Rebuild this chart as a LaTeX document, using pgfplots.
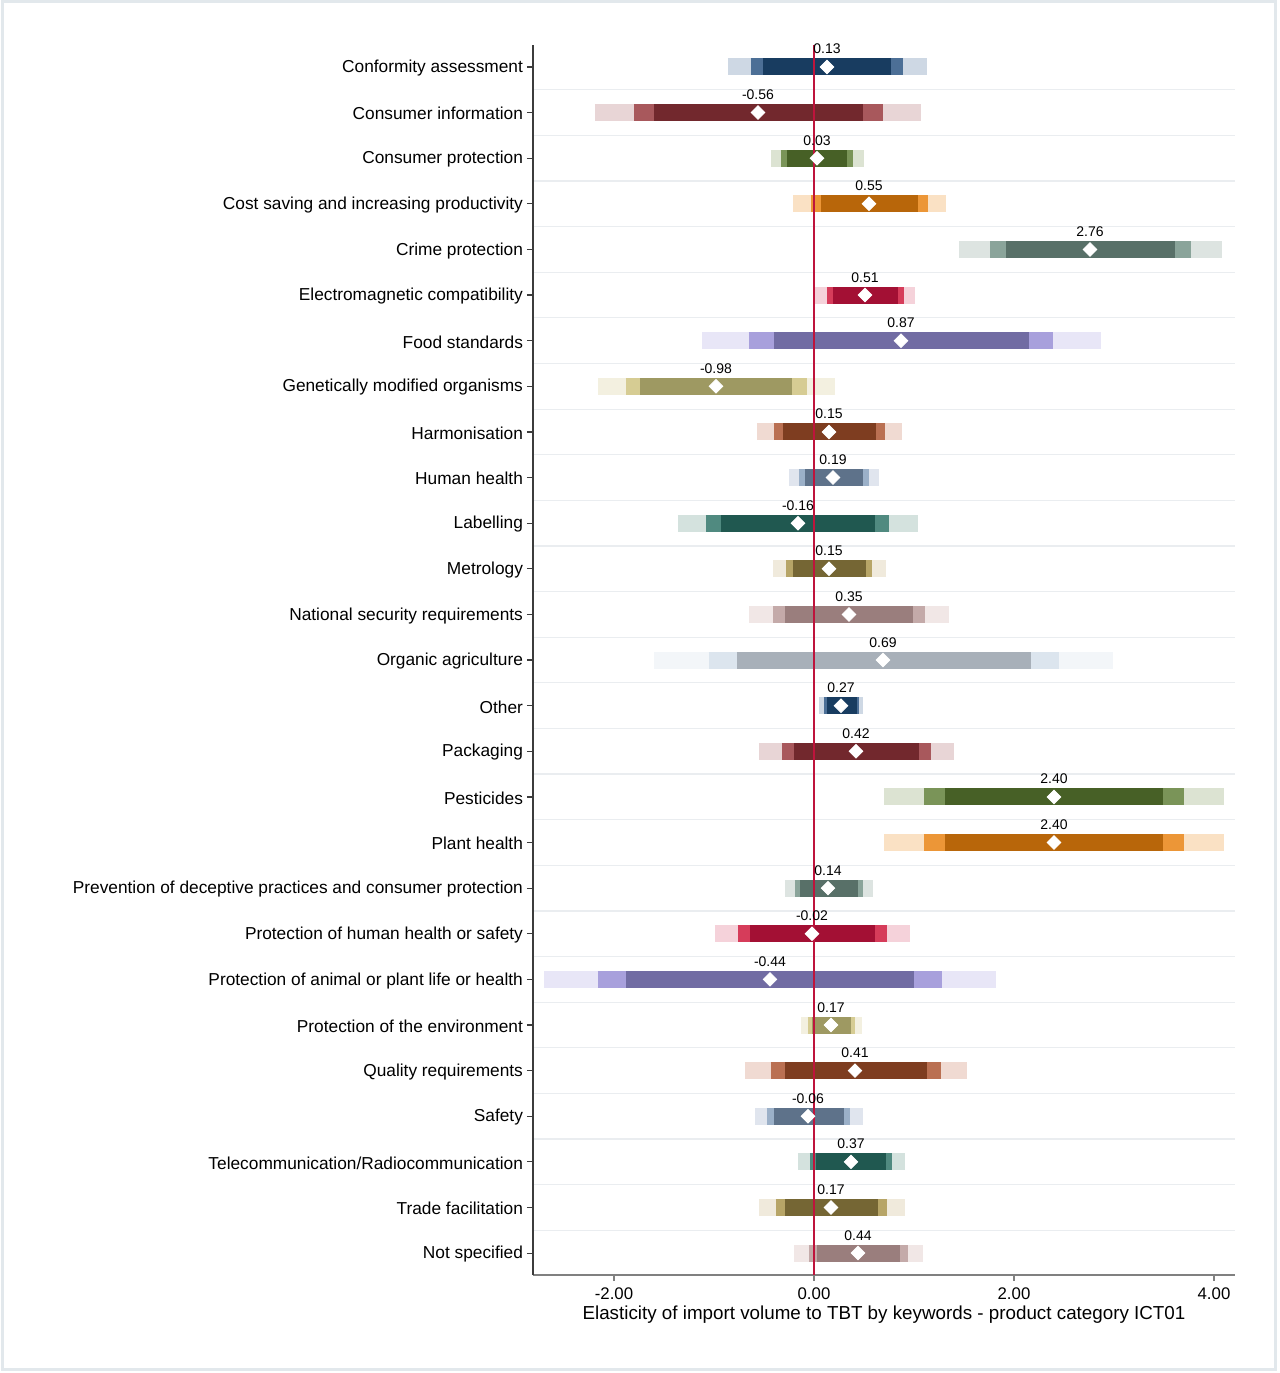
\documentclass[border=0pt]{standalone}
\usepackage{fontspec}
\setmainfont{Liberation Sans}
\usepackage{pgfplots}
\usepackage{pgfplotstable}
\pgfplotsset{compat=1.18}

\definecolor{zeroline}{RGB}{190,20,60}
\definecolor{gridc}{RGB}{234,237,240}
\definecolor{framec}{RGB}{226,232,236}
\definecolor{xaxisc}{RGB}{128,128,128}
\definecolor{yaxisc}{RGB}{60,60,60}

% one colour per keyword (c column), three shades: l light, m medium, d dark
\definecolor{k0l}{RGB}{206,216,228}\definecolor{k0m}{RGB}{76,111,150}\definecolor{k0d}{RGB}{24,60,96}
\definecolor{k1l}{RGB}{232,213,214}\definecolor{k1m}{RGB}{168,88,92}\definecolor{k1d}{RGB}{114,40,45}
\definecolor{k2l}{RGB}{220,227,210}\definecolor{k2m}{RGB}{122,148,88}\definecolor{k2d}{RGB}{71,96,38}
\definecolor{k3l}{RGB}{250,225,196}\definecolor{k3m}{RGB}{236,150,55}\definecolor{k3d}{RGB}{184,102,10}
\definecolor{k4l}{RGB}{221,228,225}\definecolor{k4m}{RGB}{138,164,154}\definecolor{k4d}{RGB}{88,112,104}
\definecolor{k5l}{RGB}{245,210,218}\definecolor{k5m}{RGB}{214,60,90}\definecolor{k5d}{RGB}{163,16,52}
\definecolor{k6l}{RGB}{232,230,247}\definecolor{k6m}{RGB}{168,160,220}\definecolor{k6d}{RGB}{113,108,163}
\definecolor{k7l}{RGB}{243,240,224}\definecolor{k7m}{RGB}{214,204,147}\definecolor{k7d}{RGB}{158,153,98}
\definecolor{k8l}{RGB}{240,218,210}\definecolor{k8m}{RGB}{186,112,82}\definecolor{k8d}{RGB}{126,61,32}
\definecolor{k9l}{RGB}{224,229,238}\definecolor{k9m}{RGB}{155,176,200}\definecolor{k9d}{RGB}{94,114,138}
\definecolor{k10l}{RGB}{212,226,222}\definecolor{k10m}{RGB}{80,138,128}\definecolor{k10d}{RGB}{32,88,80}
\definecolor{k11l}{RGB}{240,234,220}\definecolor{k11m}{RGB}{183,165,103}\definecolor{k11d}{RGB}{117,102,52}
\definecolor{k12l}{RGB}{241,231,230}\definecolor{k12m}{RGB}{196,170,169}\definecolor{k12d}{RGB}{154,126,125}
\definecolor{k13l}{RGB}{243,246,249}\definecolor{k13m}{RGB}{220,229,238}\definecolor{k13d}{RGB}{168,176,185}

% row: 1 = top; l/h = light (outer), medium, dark (inner) interval
\pgfplotstableread{
row l1    h1    l2    h2    l3    h3    est   c
1   -0.86 1.13  -0.63 0.89  -0.51 0.77  0.13  0
2   -2.19 1.07  -1.80 0.69  -1.60 0.49  -0.56 1
3   -0.43 0.50  -0.33 0.39  -0.27 0.33  0.03  2
4   -0.21 1.32  -0.03 1.14  0.07  1.04  0.55  3
5   1.45  4.08  1.76  3.77  1.92  3.61  2.76  4
6   0.01  1.01  0.13  0.90  0.19  0.84  0.51  5
7   -1.12 2.87  -0.65 2.39  -0.40 2.15  0.87  6
8   -2.16 0.21  -1.88 -0.07 -1.74 -0.22 -0.98 7
9   -0.57 0.88  -0.40 0.71  -0.31 0.62  0.15  8
10  -0.25 0.65  -0.15 0.55  -0.09 0.49  0.19  9
11  -1.36 1.04  -1.08 0.75  -0.93 0.61  -0.16 10
12  -0.41 0.72  -0.28 0.58  -0.21 0.52  0.15  11
13  -0.65 1.35  -0.41 1.11  -0.29 0.99  0.35  12
14  -1.60 2.99  -1.05 2.45  -0.77 2.17  0.69  13
15  0.05  0.49  0.10  0.45  0.13  0.43  0.27  0
16  -0.55 1.40  -0.32 1.17  -0.20 1.05  0.42  1
17  0.70  4.10  1.10  3.70  1.31  3.49  2.40  2
18  0.70  4.10  1.10  3.70  1.31  3.49  2.40  3
19  -0.29 0.59  -0.19 0.49  -0.14 0.44  0.14  4
20  -0.99 0.96  -0.76 0.73  -0.64 0.61  -0.02 5
21  -2.70 1.82  -2.16 1.28  -1.88 1.00  -0.44 6
22  -0.13 0.48  -0.06 0.41  -0.02 0.37  0.17  7
23  -0.69 1.53  -0.43 1.27  -0.29 1.13  0.41  8
24  -0.59 0.49  -0.47 0.36  -0.40 0.30  -0.06 9
25  -0.16 0.91  -0.04 0.78  0.02  0.72  0.37  10
26  -0.55 0.91  -0.38 0.73  -0.29 0.64  0.17  11
27  -0.20 1.09  -0.05 0.94  0.03  0.86  0.44  12
}\coefdata

\pgfplotsset{
  cibar/.style={forget plot, line width=8.5pt, line cap=butt,
    quiver={v=0, every arrow/.append style={line width=8.5pt, line cap=butt}}},
}

\begin{document}
\begin{tikzpicture}
\path[use as bounding box] (0,0) rectangle (640pt,686.5pt);
\draw[framec, line width=1.5pt] (1.2pt,1.5pt) rectangle (637.5pt,685.5pt);
\begin{axis}[
  at={(266.5pt,49pt)}, anchor=south west,
  scale only axis, width=351pt, height=615pt,
  xmin=-2.81, xmax=4.21, ymin=-27.48, ymax=-0.518,
  axis x line*=bottom, axis y line*=left,
  x axis line style={draw=xaxisc, line width=1pt},
  y axis line style={draw=yaxisc, line width=0.7pt},
  tick align=outside,
  major tick length=3pt, minor tick length=0pt,
  xtick={-2,0,2,4},
  x tick style={draw=xaxisc, line width=0.6pt},
  y tick style={draw=yaxisc, line width=0.6pt},
  /pgf/number format/assume math mode=true,
  xticklabel style={font=\fontsize{8.4}{10}\selectfont,
    /pgf/number format/fixed, /pgf/number format/fixed zerofill,
    /pgf/number format/precision=2},
  ytick={-27,...,-1},
  yticklabels={Not specified, Trade facilitation, Telecommunication/Radiocommunication,
    Safety, Quality requirements, Protection of the environment,
    Protection of animal or plant life or health, Protection of human health or safety,
    Prevention of deceptive practices and consumer protection, Plant health, Pesticides,
    Packaging, Other, Organic agriculture, National security requirements, Metrology,
    Labelling, Human health, Harmonisation, Genetically modified organisms,
    Food standards, Electromagnetic compatibility, Crime protection,
    Cost saving and increasing productivity, Consumer protection,
    Consumer information, Conformity assessment},
  minor ytick={-26.5,-25.5,...,-1.5},
  yminorgrids=true,
  minor grid style={draw=gridc, line width=0.6pt},
  yticklabel style={font=\fontsize{8.65}{10}\selectfont, xshift=1.5pt, yshift=-0.6pt},
  xlabel={Elasticity of import volume to TBT by keywords - product category ICT01},
  xlabel style={font=\fontsize{9.4}{11}\selectfont, yshift=4pt},
]
% outer, middle and inner intervals, one plot per keyword colour
\pgfplotsinvokeforeach{0,...,13}{
  \addplot[cibar, color=k#1l, quiver={u=\thisrow{h1}-\thisrow{l1}}]
    table[x=l1, y expr=-\thisrow{row}, restrict expr to domain={\thisrow{c}}{#1:#1}] \coefdata;
}
\pgfplotsinvokeforeach{0,...,13}{
  \addplot[cibar, color=k#1m, quiver={u=\thisrow{h2}-\thisrow{l2}}]
    table[x=l2, y expr=-\thisrow{row}, restrict expr to domain={\thisrow{c}}{#1:#1}] \coefdata;
}
\pgfplotsinvokeforeach{0,...,13}{
  \addplot[cibar, color=k#1d, quiver={u=\thisrow{h3}-\thisrow{l3}}]
    table[x=l3, y expr=-\thisrow{row}, restrict expr to domain={\thisrow{c}}{#1:#1}] \coefdata;
}
\addplot[forget plot, draw=zeroline, line width=0.8pt] coordinates {(0,-27.48) (0,-0.518)};
\addplot[only marks, mark=square*, mark size=2.4pt,
  mark options={rotate=45, fill=white, draw=white},
  point meta=x,
  nodes near coords={\pgfmathprintnumber[fixed, fixed zerofill, precision=2]{\pgfplotspointmeta}},
  every node near coord/.append style={font=\fontsize{7}{8}\selectfont, text=black,
    anchor=base, inner sep=0pt, yshift=6.5pt}]
  table[x=est, y expr=-\thisrow{row}] \coefdata;
\end{axis}
\end{tikzpicture}
\end{document}
